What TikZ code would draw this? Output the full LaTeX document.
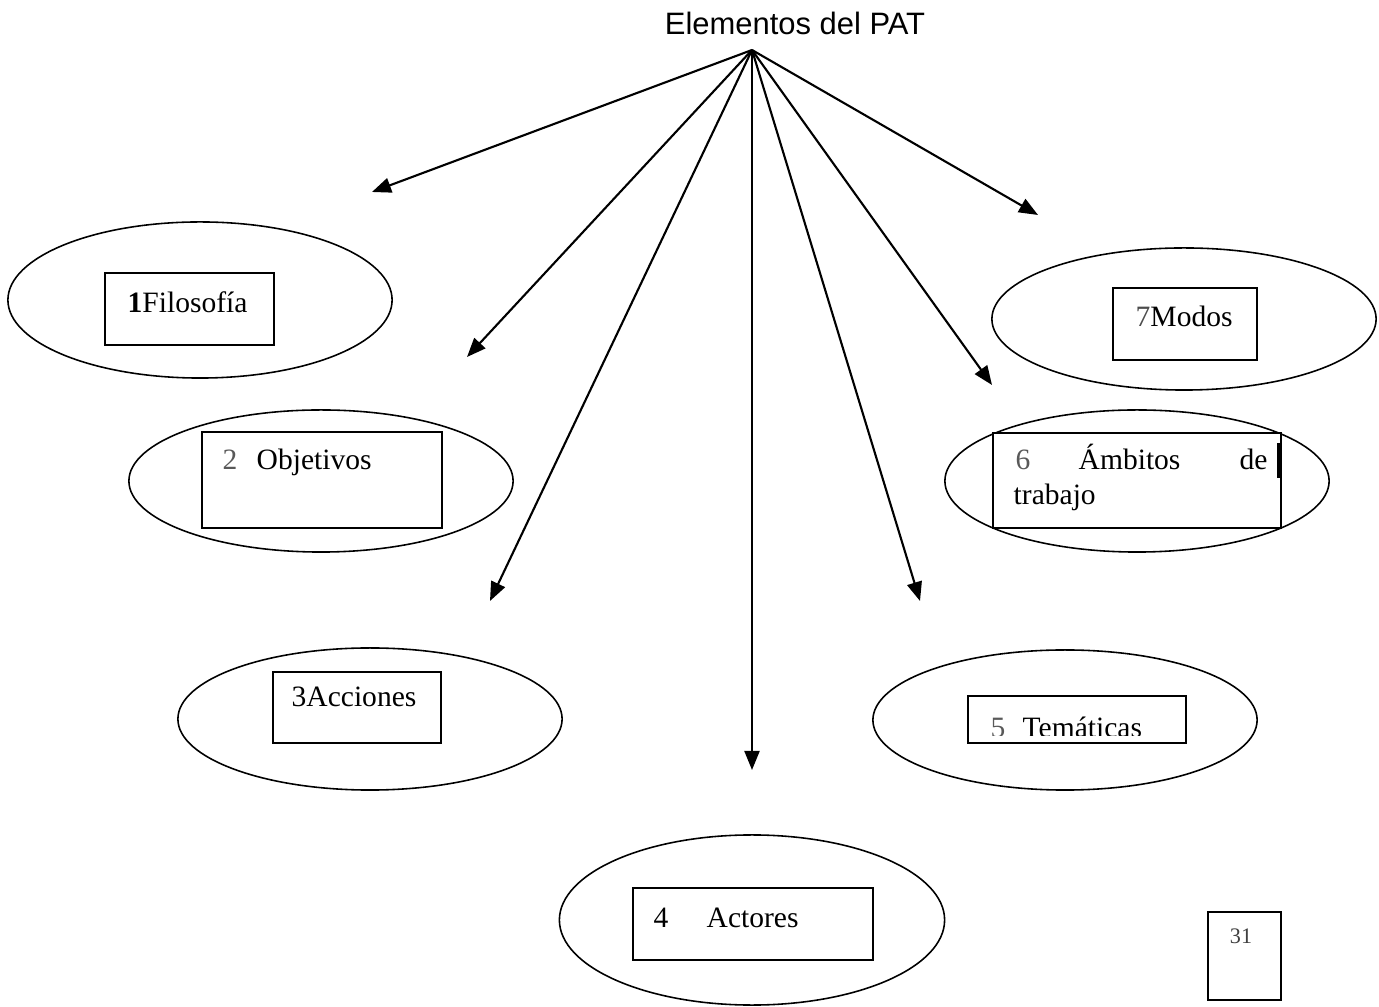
\documentclass[tikz,border=0pt]{standalone}
\usepackage{fontspec}
\setmainfont{Liberation Serif}
\newfontfamily\titlefont{Liberation Sans}
\usetikzlibrary{shapes.geometric,arrows.meta}
\begin{document}
\begin{tikzpicture}[x=0.01cm,y=-0.01cm,
  oval/.style={ellipse,draw,line width=0.45pt,inner sep=0pt,minimum width=3.84cm},
  box/.style={draw,line width=0.6pt,inner sep=0pt},
  lbl/.style={anchor=base west,inner sep=0pt,font=\fontsize{8.4pt}{10pt}\selectfont},
  num/.style={lbl,text=black!65},
  conn/.style={line width=0.6pt,-{Triangle[length=0.19cm,width=0.15cm]}}]
\useasboundingbox[fill=white] (0,0) rectangle (1379,1007);

% title and apex
\node[anchor=base,inner sep=0pt,font=\titlefont\fontsize{8.8pt}{10pt}\selectfont] (title) at (795,35) {Elementos del PAT};
\coordinate (apex) at (752,50);

% ellipses
\node[oval,minimum height=1.56cm] (o1) at (200,300) {};
\node[oval,minimum height=1.42cm] (o2) at (321,481) {};
\node[oval,minimum height=1.42cm] (o3) at (370,719) {};
\node[oval,minimum height=1.70cm,minimum width=3.85cm] (o4) at (752,920) {};
\node[oval,minimum height=1.40cm] (o5) at (1065,720) {};
\node[oval,minimum height=1.42cm] (o6) at (1137,481) {};
\node[oval,minimum height=1.42cm] (o7) at (1184,319) {};

% boxes
\node[box,fill=white,minimum width=1.69cm,minimum height=0.72cm] (b1) at (189.5,309) {};
\node[box,fill=white,minimum width=2.40cm,minimum height=0.96cm] (b2) at (322,480) {};
\node[box,fill=white,minimum width=1.68cm,minimum height=0.71cm] (b3) at (357,707.5) {};
\node[box,fill=white,minimum width=2.40cm,minimum height=0.72cm] (b4) at (753,924) {};
\node[box,fill=white,minimum width=2.18cm,minimum height=0.47cm] (b5) at (1077,719.5) {};
\node[box,fill=white,minimum width=2.88cm,minimum height=0.95cm] (b6) at (1137,480.5) {};
\node[box,fill=white,minimum width=1.44cm,minimum height=0.72cm] (b7) at (1185,324) {};
\node[box,minimum width=0.73cm,minimum height=0.88cm] (b31) at (1244.5,956) {};
\draw[line width=1.1pt] (1278.5,443) -- (1278.5,478);

% labels
\node[lbl] (t1) at (127,313) {\textbf{1}Filosofía};
\node[num] (n2) at (222,470) {2};
\node[lbl] (t2) at (256,470) {Objetivos};
\node[lbl] (t3) at (291,707) {3Acciones};
\node[lbl] (n4) at (653,927) {4};
\node[lbl] (t4) at (706,927) {Actores};
\begin{scope}
  \clip (968,696) rectangle (1186,736);
  \node[num] (n5) at (990,738) {5};
  \node[lbl] (t5) at (1022,738) {Temáticas};
\end{scope}
\node[num] (n6) at (1015,470) {6};
\node[lbl] (t6a) at (1078,470) {Ámbitos};
\node[lbl] (t6b) at (1239,470) {de};
\node[lbl] (t6c) at (1013,505) {trabajo};
\node[lbl] (t7) at (1135,327) {\textcolor{black!70}{7}Modos};
\node[anchor=base,inner sep=0pt,text=black!75,font=\fontsize{6.3pt}{8pt}\selectfont] (p31) at (1241,943) {31};

% connectors
\coordinate (e1) at (372,192);
\coordinate (e2) at (467,357);
\coordinate (e3) at (490,601);
\coordinate (e4) at (752,770);
\coordinate (e5) at (920,601);
\coordinate (e6) at (992,385);
\coordinate (e7) at (1038,215);
\foreach \e in {e1,e2,e3,e4,e5,e6,e7} \draw[conn] (apex) -- (\e);
\end{tikzpicture}
\end{document}
